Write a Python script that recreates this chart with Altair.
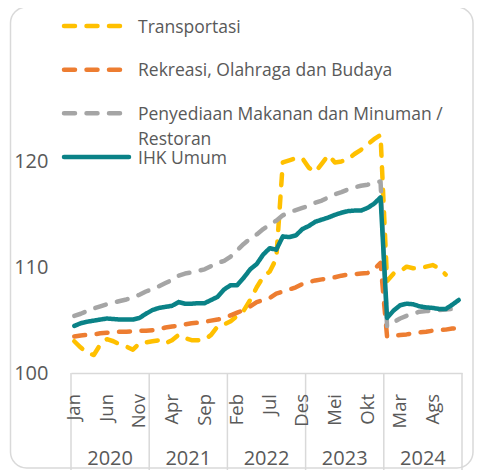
import altair as alt
import pandas as pd

FONT = "Open Sans"
TEXT_COLOR = "#595959"
FRAME_COLOR = "#D9D9D9"

series_names = [
    "Transportasi",
    "Rekreasi, Olahraga dan Budaya",
    "Penyediaan Makanan dan Minuman / Restoran",
    "IHK Umum",
]
legend_labels = [
    "Transportasi",
    "Rekreasi, Olahraga dan Budaya",
    "Penyediaan Makanan dan Minuman /\nRestoran",
    "IHK Umum",
]
series_colors = ["#FFC000", "#ED7D31", "#A5A5A5", "#0A8287"]
month_tick_labels = ["Jan", "Jun", "Nov", "Apr", "Sep", "Feb", "Jul", "Des", "Mei", "Okt", "Mar", "Ags"]
years = ["2020", "2021", "2022", "2023", "2024"]

# monthly index values, Jan 2020 .. Dec 2024
transportasi = [
    103.0, 102.4, 101.9, 101.7, 102.7, 103.2, 103.0, 102.7, 102.5, 102.2, 102.8, 102.9,
    103.0, 103.1, 102.8, 103.1, 103.6, 103.3, 103.1, 103.1, 103.15, 103.6, 104.4, 104.6,
    104.9, 105.4, 105.9, 106.9, 108.1, 109.1, 109.6, 110.8, 119.9, 120.1, 120.3, 120.3,
    119.4, 119.0, 119.8, 120.6, 119.9, 120.0, 120.2, 120.7, 121.1, 121.6, 122.1, 122.5,
    108.7, 109.4, 109.6, 110.05, 109.9, 109.9, 110.05, 110.2, 109.9, 109.3,
]
rekreasi = [
    103.45, 103.55, 103.6, 103.65, 103.75, 103.8, 103.85, 103.9, 103.9, 103.95, 104.0, 104.0,
    104.05, 104.15, 104.3, 104.4, 104.45, 104.6, 104.7, 104.75, 104.85, 104.95, 105.05, 105.2,
    105.45, 105.7, 105.95, 106.3, 106.7, 106.9, 107.1, 107.5, 107.7, 107.9, 108.1, 108.4,
    108.6, 108.75, 108.85, 108.95, 109.05, 109.2, 109.3, 109.35, 109.4, 109.45, 109.8, 110.4,
    103.45, 103.5, 103.6, 103.65, 103.75, 103.85, 103.9, 104.0, 104.05, 104.1, 104.2, 104.25,
]
makanan = [
    105.4, 105.6, 105.85, 106.1, 106.3, 106.5, 106.65, 106.8, 106.95, 107.15, 107.4, 107.7,
    107.95, 108.2, 108.5, 108.8, 109.2, 109.4, 109.5, 109.65, 109.8, 110.1, 110.4, 110.6,
    111.0, 111.6, 112.2, 112.7, 113.1, 113.6, 114.0, 114.4, 114.9, 115.2, 115.4, 115.6,
    115.8, 116.1, 116.3, 116.6, 116.9, 117.1, 117.35, 117.55, 117.7, 117.8, 117.95, 118.1,
    104.4, 104.8, 105.15, 105.4, 105.6, 105.8, 105.85, 105.9, 105.95, 106.0, 106.05, 106.1,
]
ihk_umum = [
    104.45, 104.7, 104.85, 104.95, 105.05, 105.15, 105.1, 105.05, 105.05, 105.05, 105.2, 105.6,
    105.95, 106.15, 106.25, 106.35, 106.7, 106.55, 106.55, 106.6, 106.6, 106.9, 107.2, 107.9,
    108.3, 108.3, 109.0, 109.8, 110.3, 111.2, 111.8, 111.65, 112.9, 112.85, 113.0, 113.6,
    113.9, 114.3, 114.5, 114.7, 114.95, 115.15, 115.3, 115.35, 115.35, 115.6, 116.0, 116.6,
    105.2, 105.9, 106.4, 106.55, 106.5, 106.3, 106.2, 106.15, 106.05, 106.05, 106.45, 106.9,
]

rows = []
for name, vals in zip(series_names, [transportasi, rekreasi, makanan, ihk_umum]):
    for i, v in enumerate(vals):
        rows.append({"series": name, "idx": i, "value": v})
df = pd.DataFrame(rows)

n_months = 12 * len(years)
xscale = alt.Scale(domain=[-0.5, n_months - 0.5], nice=False, zero=False)
yscale = alt.Scale(domain=[100, 134.5], nice=False, zero=False)
color_scale = alt.Scale(domain=series_names, range=series_colors)
dash_scale = alt.Scale(domain=series_names, range=[[11, 11.5], [11, 11.5], [11, 11.5], [1, 0]])

lines = alt.Chart(df).mark_line(strokeWidth=4.5, strokeCap="round", strokeJoin="round").encode(
    x=alt.X(
        "idx:Q",
        scale=xscale,
        axis=alt.Axis(
            labels=False,
            ticks=False,
            grid=False,
            domainColor=FRAME_COLOR,
            domainWidth=1.5,
            title=None,
        ),
    ),
    y=alt.Y(
        "value:Q",
        scale=yscale,
        axis=alt.Axis(
            values=[100, 110, 120],
            labelFontSize=20,
            labelFont=FONT,
            labelColor=TEXT_COLOR,
            labelPadding=23,
            ticks=False,
            grid=False,
            domain=False,
            title=None,
        ),
    ),
    color=alt.Color("series:N", scale=color_scale, legend=None),
    strokeDash=alt.StrokeDash("series:N", scale=dash_scale, legend=None),
)

# month tick labels, every 5th month
month_df = pd.DataFrame({"label": month_tick_labels, "idx": [5 * k for k in range(len(month_tick_labels))]})
month_text = alt.Chart(month_df).mark_text(
    angle=270, align="right", baseline="middle", fontSize=18.5, font=FONT, color=TEXT_COLOR
).encode(
    x=alt.X("idx:Q", scale=xscale),
    y=alt.value(386),
    text="label:N",
)

sep_df = pd.DataFrame({"pos": [12 * k - 0.5 for k in range(len(years) + 1)]})
seps = alt.Chart(sep_df).mark_rule(color=FRAME_COLOR, strokeWidth=1.5).encode(
    x=alt.X("pos:Q", scale=xscale),
    y=alt.datum(100),
    y2=alt.value(480),
)

year_df = pd.DataFrame({"year": years, "mid": [12 * k + 5.5 for k in range(len(years))]})
year_text = alt.Chart(year_df).mark_text(
    fontSize=20, font=FONT, color=TEXT_COLOR, baseline="middle", align="center"
).encode(
    x=alt.X("mid:Q", scale=xscale),
    y=alt.value(451),
    text="year:N",
)

frame = alt.Chart(pd.DataFrame({"a": [0]})).mark_rect(
    fillOpacity=0, stroke=FRAME_COLOR, strokeWidth=1.5, cornerRadius=16
).encode(
    x=alt.value(-60.5), x2=alt.value(402), y=alt.value(-1), y2=alt.value(460)
)

main = alt.layer(frame, seps, lines, month_text, year_text)

leg_df = pd.DataFrame({"series": series_names, "label": legend_labels, "row": list(range(len(series_names)))})
leg_scale = alt.Scale(domain=[0, 3], range=[18, 149], nice=False, zero=False)
leg_rules = alt.Chart(leg_df).mark_rule(strokeWidth=4.5, strokeCap="round").encode(
    x=alt.value(-7),
    x2=alt.value(58),
    y=alt.Y("row:Q", scale=leg_scale, axis=None),
    color=alt.Color("series:N", scale=color_scale, legend=None),
    strokeDash=alt.StrokeDash("series:N", scale=dash_scale, legend=None),
)
leg_text = alt.Chart(leg_df).mark_text(
    align="left", baseline="alphabetic", dy=6.5, lineBreak="\n", lineHeight=25,
    fontSize=17.5, font=FONT, color=TEXT_COLOR
).encode(
    x=alt.value(67),
    y=alt.Y("row:Q", scale=leg_scale, axis=None),
    text="label:N",
)
legend = alt.layer(leg_rules, leg_text)

chart = alt.layer(main, legend).resolve_scale(y="independent").properties(
    width=391,
    height=365,
    autosize=alt.AutoSizeParams(type="none"),
    padding={"left": 63, "top": 0, "right": 12, "bottom": 97},
    background="white",
).configure_view(stroke=None)

chart.save("out.html", embed_options={"renderer": "svg", "actions": False})
